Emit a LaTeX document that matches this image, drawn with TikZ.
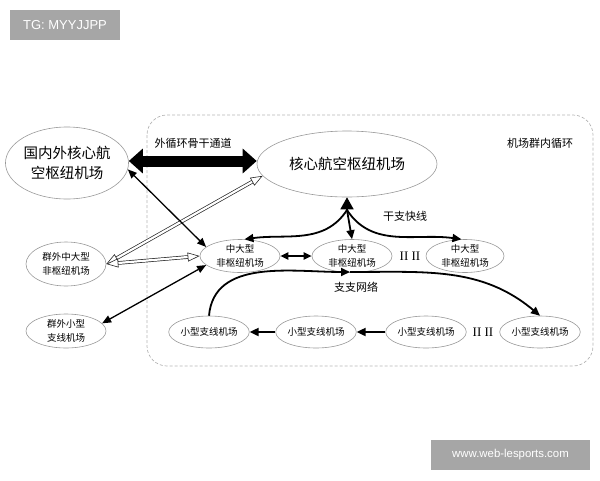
\documentclass[tikz,border=0pt]{standalone}
\usepackage{fontspec}
\setmainfont{Noto Sans CJK SC}
\newfontfamily\wmfont{Liberation Sans}
\newfontfamily\romfont{Liberation Serif}
\usetikzlibrary{arrows.meta,shapes.geometric,calc}
\definecolor{wmgray}{HTML}{A6A6A6}
\definecolor{elgray}{HTML}{999999}
\definecolor{dashgray}{HTML}{B4B4B4}
\newcommand{\hollowarr}[2]{%
  \draw[line width=3.6pt, black!85, shorten <=9pt, shorten >=9pt] (#1) -- (#2);
  \draw[line width=2.2pt, white, shorten <=8pt, shorten >=8pt] (#1) -- (#2);
  \draw[hollowtip] ($(#1)!12pt!(#2)$) -- (#1);
  \draw[hollowtip] ($(#2)!12pt!(#1)$) -- (#2);
}
\begin{document}
\begin{tikzpicture}[x=1pt,y=1pt,
  elbig/.style={ellipse, draw=elgray, line width=0.6pt, inner sep=0pt, align=center, font=\fontsize{14.5}{20}\selectfont},
  elsm/.style={ellipse, draw=elgray, line width=0.6pt, inner sep=0pt, align=center, minimum width=80pt, font=\fontsize{9.5}{14}\selectfont},
  lbl/.style={inner sep=0pt, font=\fontsize{11}{13}\selectfont},
  wm/.style={fill=wmgray, text=white, inner sep=0pt, font=\wmfont},
  hollowtip/.style={line width=0.6pt, black!85, -{Triangle[open, fill=white, length=12pt, width=9pt]}},
  thin/.style={line width=1.3pt, {Triangle[length=9pt,width=7.5pt]}-{Triangle[length=9pt,width=7.5pt]}},
  crv/.style={line width=1.8pt},
  tipe/.style={-{Triangle[length=9pt,width=8pt]}},
  tipb/.style={{Triangle[length=8pt,width=7pt]}-{Triangle[length=8pt,width=7pt]}},
]
\useasboundingbox (0,0) rectangle (600,-480);
% watermarks
\node[wm, minimum width=110pt, minimum height=30pt, font=\wmfont\fontsize{13}{15}\selectfont] (wm1) at (65,-25) {TG: MYYJJPP};
\node[wm, minimum width=159pt, minimum height=30pt, font=\wmfont\fontsize{11.4}{13}\selectfont] (wm2) at (510.5,-455) {www.web-lesports.com};
% cluster frame
\draw[dashgray, line width=0.7pt, dash pattern=on 3pt off 2pt, rounded corners=20pt] (147,-115) rectangle (593,-366);
% nodes
\node[elbig, minimum width=118pt, minimum height=72pt] (BigL) at (67,-163) {国内外核心航\\空枢纽机场};
\node[elbig, minimum width=180pt, minimum height=66pt] (Core) at (347,-164) {核心航空枢纽机场};
\node[elsm, minimum height=44pt] (LM) at (66,-264) {群外中大型\\非枢纽机场};
\node[elsm, minimum height=34pt] (LS) at (66,-331) {群外小型\\支线机场};
\node[elsm, minimum height=33pt] (M1) at (240,-256) {中大型\\非枢纽机场};
\node[elsm, minimum height=33pt] (M2) at (352,-256) {中大型\\非枢纽机场};
\node[elsm, minimum height=33pt, minimum width=78pt] (M3) at (465,-256) {中大型\\非枢纽机场};
\node[elsm, minimum height=32pt] (S1) at (209,-332) {小型支线机场};
\node[elsm, minimum height=32pt] (S2) at (316,-332) {小型支线机场};
\node[elsm, minimum height=32pt, minimum width=78pt] (S3) at (426,-332) {小型支线机场};
\node[elsm, minimum height=32pt, minimum width=78pt] (S4) at (540,-332) {小型支线机场};
% labels
\node[lbl] (t1) at (193,-143) {外循环骨干通道};
\node[lbl] (t2) at (540,-143) {机场群内循环};
\node[lbl] (t3) at (405,-216) {干支快线};
\node[lbl] (t4) at (356,-287) {支支网络};
\node[inner sep=0pt, font=\romfont\fontsize{13}{15}\selectfont] (d1) at (410,-256) {II II};
\node[inner sep=0pt, font=\romfont\fontsize{13}{15}\selectfont] (d2) at (483,-332) {II II};
% hollow (double-line) arrows
\hollowarr{LM.east}{Core.188}
\hollowarr{LM.east}{M1.west}
% thick backbone
\draw[line width=11pt, {Triangle[length=14pt,width=24pt]}-{Triangle[length=14pt,width=24pt]}] ([yshift=2pt]BigL.east) -- ([yshift=3pt]Core.west);
% thin black arrows
\draw[thin] (BigL.-6) -- (M1.165);
\draw[thin] (LS.12) -- (M1.195);
% trunk-feeder lines
\coordinate (J) at (347,-210);
\draw[line width=1.5pt, -{Triangle[length=12pt,width=13pt]}] (J) -- (Core.south);
\draw[crv, tipe] (J) to[out=237,in=8] (M1.75);
\draw[crv, tipe] (J) -- (M2.north);
\draw[crv, tipe] (J) to[out=-57,in=172] (M3.102);
\draw[crv, tipb] (M1.east) -- (M2.west);
% feeder network
\coordinate (Mm) at (350,-272);
\draw[crv, tipe] (S1.north) to[out=85,in=180] (Mm);
\draw[crv, tipe] (Mm) to[out=0,in=140] (S4.north);
\draw[crv, tipe] (S2.west) -- (S1.east);
\draw[crv, tipe] (S3.west) -- (S2.east);
\end{tikzpicture}
\end{document}
